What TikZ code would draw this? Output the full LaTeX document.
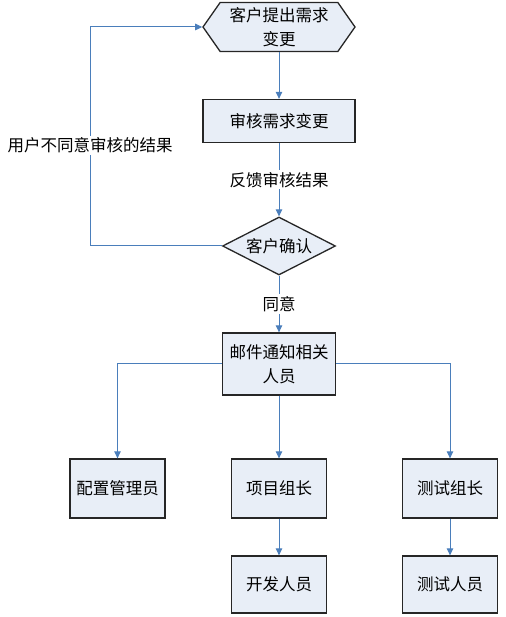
\documentclass[tikz,border=0pt]{standalone}
\usepackage{fontspec}
\setmainfont{Noto Sans CJK SC}
\usetikzlibrary{shapes.geometric,shapes.symbols,arrows.meta}

\definecolor{lineblue}{HTML}{4A7EBB}
\definecolor{boxfill}{HTML}{E8EEF7}

\begin{document}
\begin{tikzpicture}[x=1pt,y=1pt,
    font=\fontsize{16.5}{24}\selectfont,
    box/.style={draw=black!85,line width=1.3pt,fill=boxfill,inner sep=0pt,align=center},
    arr/.style={draw=lineblue,line width=1pt,-{Triangle[length=7pt,width=6.5pt]}},
    lbl/.style={fill=white,inner sep=2pt}]

    \useasboundingbox (0,0) rectangle (505,617);

    \node[box,shape=signal,signal to=west and east,signal pointer angle=110,
      minimum width=152,minimum height=49] (req) at (279,590)
      {客户提出需求\\变更};

    \node[box,minimum width=152,minimum height=43] (audit) at (279,496) {审核需求变更};

    \node[box,diamond,aspect=1.95,minimum width=113,minimum height=58] (confirm) at (279,371) {客户确认};

    \node[box,minimum width=113,minimum height=62] (mail) at (279,253)
      {邮件通知相关\\人员};



    \node[box,minimum width=95,minimum height=59] (cfg) at (117.5,128.5) {配置管理员};

    \node[box,minimum width=95,minimum height=59] (pm) at (279,128.5) {项目组长};

    \node[box,minimum width=95,minimum height=59] (tl) at (450,128.5) {测试组长};

    \node[box,minimum width=95,minimum height=57] (dev) at (279,32.5) {开发人员};

    \node[box,minimum width=95,minimum height=57] (tester) at (450,32.5) {测试人员};

    \coordinate (loop) at (90,371);



    \draw[arr] (req.south) -- (audit.north);

    \draw[arr] (audit.south) -- node[lbl] {反馈审核结果} (confirm.north);

    \draw[arr] (confirm.south) -- node[lbl] {同意} (mail.north);

    \draw[arr] (confirm.west) -- (loop) |- node[lbl,pos=0.23] {用户不同意审核的结果} (req.west);

    \draw[arr] (mail.west) -| (cfg.north);

    \draw[arr] (mail.south) -- (pm.north);

    \draw[arr] (mail.east) -| (tl.north);

    \draw[arr] (pm.south) -- (dev.north);

    \draw[arr] (tl.south) -- (tester.north);

  \end{tikzpicture}
\end{document}
